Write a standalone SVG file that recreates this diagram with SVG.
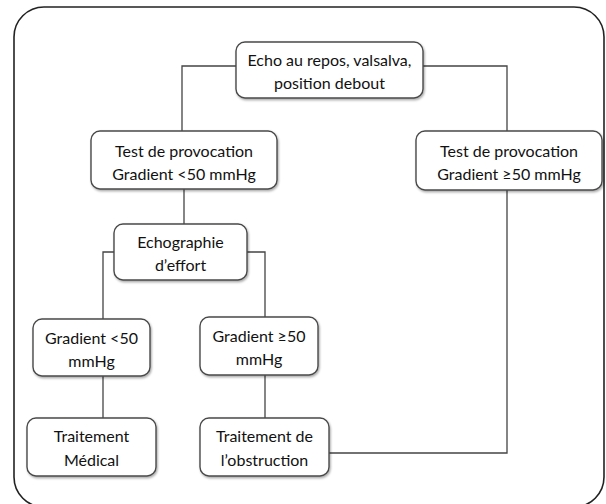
<svg xmlns="http://www.w3.org/2000/svg" width="606" height="504" viewBox="0 0 606 504">
<style>
.frame{fill:#fff;stroke:#222;stroke-width:1.6}
.node rect{fill:#fff;stroke:#4a4a4a;stroke-width:1.4;filter:url(#sh)}
.node text{font-family:Lato,"Liberation Sans",sans-serif;font-size:16px;fill:#111;text-anchor:middle}
.conn path{fill:none;stroke:#444;stroke-width:1.3}
</style>
<defs>
<filter id="sh" x="-10%" y="-10%" width="125%" height="130%">
<feDropShadow dx="1" dy="1.5" stdDeviation="1" flood-color="#000" flood-opacity="0.35"/>
</filter>
</defs>
<rect width="606" height="504" fill="#fff"/>
<rect class="frame" x="14" y="7" width="590" height="500" rx="30" ry="30"/>
<g class="conn">
<path d="M236,66 H182 V131"/>
<path d="M423,66 H507 V131"/>
<path d="M184,189 V224"/>
<path d="M114,252 H103 V319"/>
<path d="M247,252 H265 V317"/>
<path d="M103,376 V418"/>
<path d="M265,375 V418"/>
<path d="M329,453 H507 V190"/>
</g>
<g id="n1" class="node"><rect x="236" y="42" width="187" height="56" rx="9"/><text x="329.5" y="66">Echo au repos, valsalva,</text><text x="329.5" y="89">position debout</text></g>
<g id="n2" class="node"><rect x="91" y="131" width="186" height="58" rx="9"/><text x="184" y="157">Test de provocation</text><text x="184" y="180">Gradient &lt;50 mmHg</text></g>
<g id="n3" class="node"><rect x="416" y="131" width="186" height="59" rx="9"/><text x="509" y="157">Test de provocation</text><text x="509" y="180">Gradient ≥50 mmHg</text></g>
<g id="n4" class="node"><rect x="114" y="224" width="133" height="56" rx="9"/><text x="180.5" y="248">Echographie</text><text x="180.5" y="271">d’effort</text></g>
<g id="n5" class="node"><rect x="33" y="319" width="117" height="57" rx="9"/><text x="91.5" y="344">Gradient &lt;50</text><text x="91.5" y="367">mmHg</text></g>
<g id="n6" class="node"><rect x="200" y="317" width="118" height="58" rx="9"/><text x="259" y="342">Gradient ≥50</text><text x="259" y="365">mmHg</text></g>
<g id="n7" class="node"><rect x="27" y="418" width="129" height="58" rx="9"/><text x="91.5" y="442">Traitement</text><text x="91.5" y="466">Médical</text></g>
<g id="n8" class="node"><rect x="200" y="418" width="129" height="58" rx="9"/><text x="264.5" y="442">Traitement de</text><text x="264.5" y="466">l’obstruction</text></g>
</svg>
